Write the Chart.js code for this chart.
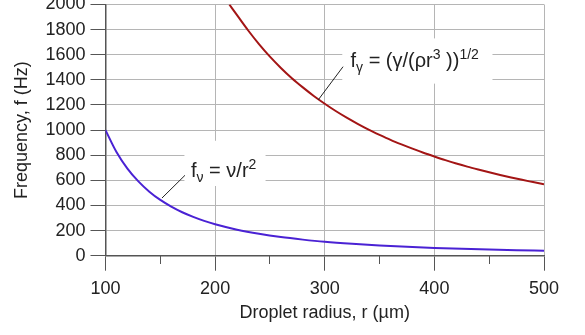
<!DOCTYPE html>
<html>
<head>
<meta charset="utf-8">
<script src="https://cdn.jsdelivr.net/npm/chart.js@4.4.1/dist/chart.umd.min.js"></script>
<style>
  html, body { margin: 0; padding: 0; background: #fff; }
</style>
</head>
<body>
<canvas id="chart" width="585" height="335"></canvas>
<script>
// droplet radius (µm) vs frequency (Hz)
const radiusVisc = [100, 110, 120, 130, 140, 150, 160, 170, 180, 190, 200, 220, 240, 260, 280, 300, 325, 350, 375, 400, 425, 450, 475, 500];
const freqVisc   = [1000, 826, 694, 592, 510, 444, 391, 346, 309, 277, 250, 207, 174, 148, 128, 111, 95, 82, 71, 62, 55, 49, 44, 40];

const radiusSurf = [213, 220, 230, 240, 250, 260, 270, 280, 290, 300, 310, 320, 330, 340, 350, 360, 370, 380, 390, 400, 410, 420, 430, 440, 450, 460, 470, 480, 490, 500];
const freqSurf   = [2000, 1915, 1795, 1685, 1585, 1495, 1413, 1340, 1272, 1210, 1152, 1099, 1050, 1004, 962, 922, 886, 852, 820, 790, 761, 734, 709, 686, 664, 643, 623, 604, 586, 568];

const xTickLabels = [100, 200, 300, 400, 500];
const yMax = 2000, yStep = 200;

// formula labels: [text, 0 = normal | 1 = subscript | -1 = superscript]
const labelVisc = [['f', 0], ['ν', 1], [' = ν/r', 0], ['2', -1]];
const labelSurf = [['f', 0], ['γ', 1], [' = (γ/(ρr', 0], ['3', -1], [' ))', 0], ['1/2', -1]];

const FONT = '"Liberation Sans", Arial, Helvetica, sans-serif';
const INK = '#222';

// where the labels sit, in data units
const notes = [
  { box: [172, 915, 246, 555], leader: [151.5, 459, 172.5, 640], at: [178, 627], parts: labelVisc },
  { box: [316, 1730, 453, 1370], leader: [294, 1240, 316.7, 1505], at: [323.5, 1503], parts: labelSurf }
];

const formulaLabels = {
  id: 'formulaLabels',
  afterDatasetsDraw(chart) {
    const { ctx, scales: { x, y } } = chart;
    ctx.save();
    notes.forEach(n => {
      const x0 = x.getPixelForValue(n.box[0]), y0 = y.getPixelForValue(n.box[1]);
      const x1 = x.getPixelForValue(n.box[2]), y1 = y.getPixelForValue(n.box[3]);
      ctx.fillStyle = '#fff';
      ctx.fillRect(x0, y0, x1 - x0, y1 - y0);

      ctx.strokeStyle = '#222';
      ctx.lineWidth = 1;
      ctx.beginPath();
      ctx.moveTo(x.getPixelForValue(n.leader[0]), y.getPixelForValue(n.leader[1]));
      ctx.lineTo(x.getPixelForValue(n.leader[2]), y.getPixelForValue(n.leader[3]));
      ctx.stroke();

      let px = x.getPixelForValue(n.at[0]);
      const base = y.getPixelForValue(n.at[1]);
      ctx.fillStyle = INK;
      ctx.textBaseline = 'alphabetic';
      ctx.textAlign = 'left';
      n.parts.forEach(([txt, kind]) => {
        if (kind === 0) { ctx.font = '20px ' + FONT; ctx.fillText(txt, px, base); }
        else if (kind === 1) { ctx.font = '14px ' + FONT; ctx.fillText(txt, px, base + 5); }
        else { ctx.font = '14px ' + FONT; ctx.fillText(txt, px, base - 8); }
        px += ctx.measureText(txt).width;
      });
    });
    ctx.restore();
  }
};

new Chart(document.getElementById('chart'), {
  type: 'line',
  data: {
    datasets: [
      {
        data: radiusVisc.map((r, i) => ({ x: r, y: freqVisc[i] })),
        borderColor: '#4a22d4',
        borderWidth: 2,
        pointRadius: 0,
        cubicInterpolationMode: 'monotone'
      },
      {
        data: radiusSurf.map((r, i) => ({ x: r, y: freqSurf[i] })),
        borderColor: '#a31515',
        borderWidth: 2,
        pointRadius: 0,
        cubicInterpolationMode: 'monotone'
      }
    ]
  },
  options: {
    responsive: false,
    animation: false,
    devicePixelRatio: 1,
    layout: { padding: { left: 0, top: 4.5, right: 41, bottom: 0 } },
    plugins: { legend: { display: false }, tooltip: { enabled: false } },
    scales: {
      x: {
        type: 'linear',
        min: xTickLabels[0],
        max: xTickLabels[xTickLabels.length - 1],
        afterBuildTicks: s => { s.ticks = xTickLabels.map(v => ({ value: v })); },
        afterFit: s => { s.height = 79.3; s.paddingLeft = 0; s.paddingRight = 0; },
        grid: { color: '#b5b5b5', lineWidth: 1, tickLength: 15, tickColor: '#555' },
        border: { color: '#555', width: 1.5 },
        ticks: { color: INK, font: { family: FONT, size: 18 }, padding: 8, callback: v => String(v) },
        title: {
          display: true,
          text: 'Droplet radius, r (µm)',
          color: INK,
          font: { family: FONT, size: 18 },
          padding: { top: 0, bottom: 11 }
        }
      },
      xMinor: {
        type: 'linear',
        position: { y: 0 },
        min: xTickLabels[0],
        max: xTickLabels[xTickLabels.length - 1],
        ticks: { display: false, stepSize: 50 },
        grid: {
          drawOnChartArea: false,
          tickLength: 8,
          tickColor: c => (c.tick && c.tick.value % 100 === 0) ? 'rgba(0,0,0,0)' : '#555'
        },
        border: { display: false }
      },
      y: {
        min: 0,
        max: yMax,
        ticks: { stepSize: yStep, color: INK, font: { family: FONT, size: 18 }, padding: 5, callback: v => String(v) },
        afterFit: s => { s.width = 105.5; s.paddingTop = 0; s.paddingBottom = 0; },
        grid: { color: '#b5b5b5', lineWidth: 1, tickLength: 15, tickColor: '#555' },
        border: { color: '#555', width: 1.5 },
        title: {
          display: true,
          text: 'Frequency, f (Hz)',
          color: INK,
          font: { family: FONT, size: 18 },
          padding: { top: 11, bottom: 0 }
        }
      }
    }
  },
  plugins: [formulaLabels]
});
</script>
</body>
</html>
